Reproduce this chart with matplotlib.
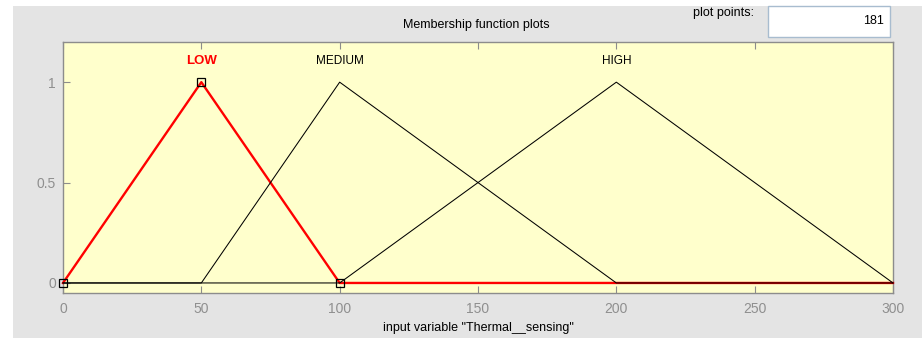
import matplotlib
matplotlib.use("Agg")
import matplotlib.pyplot as plt
from matplotlib.patches import Rectangle

plt.rcParams['font.family'] = ['Liberation Sans', 'DejaVu Sans']

# Membership functions (triangular: left foot, peak, right foot)
mf_names = ["LOW", "MEDIUM", "HIGH"]
mf_params = [[0, 50, 100], [50, 100, 200], [100, 200, 300]]
selected = "LOW"
x_range = [0, 300]
x_ticks = [0, 50, 100, 150, 200, 250, 300]
y_ticks = [0, 0.5, 1]
y_tick_labels = ["0", "0.5", "1"]
plot_points = 181
var_name = "Thermal__sensing"

W, H = 922, 338
fig = plt.figure(figsize=(W / 100, H / 100), dpi=100, facecolor="#e4e4e4")

# white margins on the left and top of the panel
fig.patches.append(Rectangle((0, 0), 13 / W, 1, transform=fig.transFigure,
                             facecolor="white", edgecolor="none"))
fig.patches.append(Rectangle((0, 1 - 6 / H), 1, 6 / H, transform=fig.transFigure,
                             facecolor="white", edgecolor="none"))

ax = fig.add_axes([63 / W, 1 - 293 / H, 830 / W, 251 / H])
ax.set_facecolor("#ffffcc")
ax.set_xlim(*x_range)
ax.set_ylim(-0.05, 1.2)
for s in ax.spines.values():
    s.set_color("#8c8c8c")
    s.set_linewidth(1.0)

ax.set_xticks(x_ticks)
ax.set_xticklabels([str(t) for t in x_ticks])
ax.set_yticks(y_ticks)
ax.set_yticklabels(y_tick_labels)
ax.tick_params(axis="x", direction="in", length=5, width=0.8, color="#8c8c8c",
               labelcolor="#8f8f8f", labelsize=10, pad=6.5, top=True)
ax.tick_params(axis="y", direction="in", length=5, width=0.8, color="#8c8c8c",
               labelcolor="#8f8f8f", labelsize=10, pad=5)

for name, (a, b, c) in zip(mf_names, mf_params):
    xs = [x_range[0], a, b, c, x_range[1]]
    ys = [0, 0, 1, 0, 0]
    if name == selected:
        ax.plot(xs, ys, color="#ff0000", lw=1.7, zorder=3, clip_on=False)
        ax.plot([a, b, c], [0, 1, 0], ls="none", marker="s", ms=6,
                mfc="none", mec="black", mew=0.9, zorder=5, clip_on=False)
        ax.text(b, 1.104, name, color="#ff0000", fontsize=9.5, fontweight="bold",
                ha="center", va="center")
    else:
        ax.plot(xs, ys, color="black", lw=0.75, zorder=4, clip_on=False)
        ax.text(b, 1.104, name, color="black", fontsize=8.5,
                ha="center", va="center")

ax.set_xlabel('input variable "%s"' % var_name, fontsize=9, color="black",
              labelpad=4.5)

fig.text(476 / W, 1 - 25 / H, "Membership function plots", fontsize=9,
         ha="center", va="center", color="black")
fig.text(754 / W, 1 - 13 / H, "plot points:", fontsize=9,
         ha="right", va="center", color="black")
fig.patches.append(Rectangle((768 / W, 1 - 37 / H), 122 / W, 31 / H,
                             transform=fig.transFigure, facecolor="white",
                             edgecolor="#a8bccf", linewidth=1.0))
fig.text(884 / W, 1 - 21 / H, str(plot_points), fontsize=9,
         ha="right", va="center", color="black", zorder=2)

fig.savefig("out.png", dpi=100, facecolor=fig.get_facecolor())
